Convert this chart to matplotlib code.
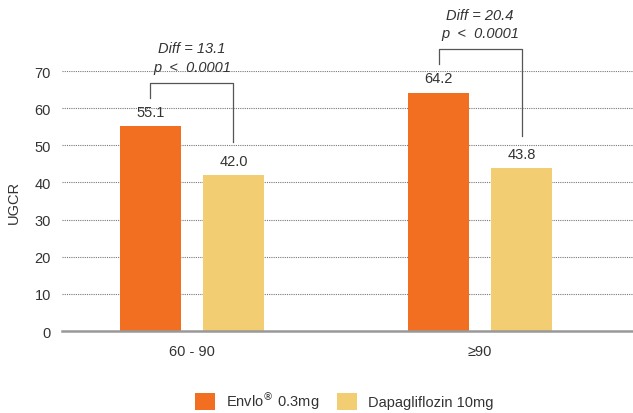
import matplotlib.pyplot as plt
import numpy as np

plt.rcParams['font.family'] = ['Liberation Sans', 'DejaVu Sans']

groups = ['60 - 90', '\u226590']
envlo = [55.1, 64.2]
dapa = [42.0, 43.8]
diffs = ['Diff = 13.1', 'Diff = 20.4']
pvals = ['p  <  0.0001', 'p  <  0.0001']
yticks = [0, 10, 20, 30, 40, 50, 60, 70]

orange = '#F26F21'
yellow = '#F3CD72'
txt = '#333333'

fig = plt.figure(figsize=(6.33, 4.14), dpi=100)
ax = fig.add_axes([0.098, 0.198, 0.902, 0.628])

x = np.arange(len(groups))
w = 0.212
off = 0.144
b1 = ax.bar(x - off, envlo, w, color=orange, label=r'Envlo$^{\circledR}$ 0.3mg', zorder=3)
b2 = ax.bar(x + off, dapa, w, color=yellow, label='Dapagliflozin 10mg', zorder=3)

for xi, v in zip(x - off, envlo):
    ax.text(xi, v + 3.9, f'{v:.1f}', ha='center', va='center', fontsize=10.5, color=txt)
for xi, v in zip(x + off, dapa):
    ax.text(xi, v + 3.9, f'{v:.1f}', ha='center', va='center', fontsize=10.5, color=txt)

# significance brackets with the difference and p-value above
for i in range(len(groups)):
    top = envlo[i] + 11.6
    xs = [x[i] - off, x[i] - off, x[i] + off, x[i] + off]
    ys = [envlo[i] + 7.7, top, top, dapa[i] + 8.8]
    ax.plot(xs, ys, color='#555555', lw=0.9, clip_on=False, zorder=4)
    ax.text(x[i], top + 9.4, diffs[i], ha='center', va='center', fontsize=10.5,
            style='italic', color=txt, clip_on=False)
    ax.text(x[i], top + 4.4, pvals[i], ha='center', va='center', fontsize=10.5,
            style='italic', color=txt, clip_on=False)

ax.set_ylim(0, 70)
ax.set_xlim(-0.451, 1.531)
ax.set_yticks(yticks)
ax.set_xticks(x)
ax.set_xticklabels(groups)
ax.tick_params(length=0, labelsize=10.5, colors=txt)
ax.tick_params(axis='x', pad=9)
ax.tick_params(axis='y', pad=8)
ax.yaxis.grid(True, linestyle=(0, (1, 1)), color='#777777', lw=0.8, zorder=0)
for s in ['left', 'right', 'top']:
    ax.spines[s].set_visible(False)
ax.spines['bottom'].set_color('#999999')
ax.spines['bottom'].set_linewidth(1.8)
ax.spines['bottom'].set_zorder(5)
ax.set_ylabel('UGCR', fontsize=10.5, color=txt, labelpad=10)

fig.legend(handles=[b1, b2], loc='center', bbox_to_anchor=(0.544, 0.031), ncol=2,
           frameon=False, fontsize=10.5, handlelength=1.35, handleheight=1.35,
           columnspacing=1.2, handletextpad=0.8, labelcolor=txt)

fig.savefig('out.png', dpi=100)
